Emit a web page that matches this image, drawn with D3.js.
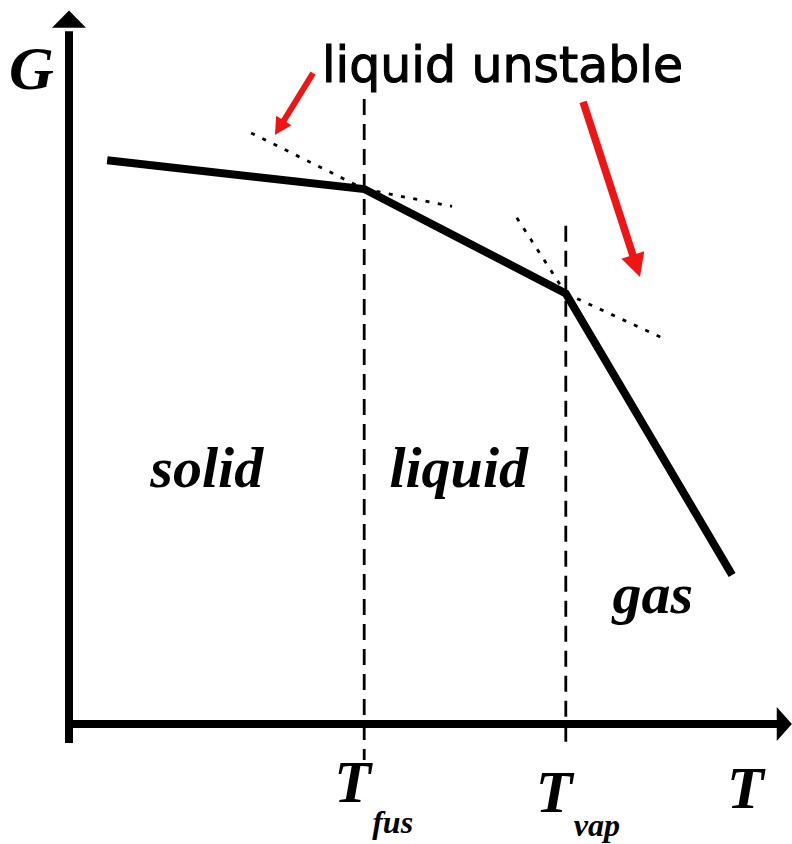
<!DOCTYPE html>
<html>
<head>
<meta charset="utf-8">
<script src="https://cdn.jsdelivr.net/npm/d3@7"></script>
<style>
  html, body { margin: 0; padding: 0; background: #fff; }
  svg { display: block; }
  .serif { font-family: "Liberation Serif", "Times New Roman", serif; font-weight: bold; font-style: italic; }
</style>
</head>
<body>
<svg id="chart" width="792" height="844"></svg>
<script>
// Gibbs free energy G versus temperature T for the three phases.
// Values are in arbitrary units (0–100 on both axes).

// Stable branch: solid -> liquid -> gas
const stableT = [5.3, 41, 69, 92.1];
const stableG = [78.3, 74.3, 59.8, 20.7];

// Transition temperatures
const transitionNames = ["fus", "vap"];
const transitionT = [41, 69];

// Metastable extensions of each phase line past the transitions
const extensionT = [[25.3, 41], [41, 53.2], [62.2, 69], [69, 83.1]];
const extensionG = [[82.1, 74.3], [74.3, 71.9], [70.3, 59.8], [59.8, 53.3]];

// Phase region labels
const phaseNames = ["solid", "liquid", "gas"];
const phaseT = [11.3, 44.5, 75.5];
const phaseG = [32.9, 32.9, 15.4];

// Arrows pointing at the metastable (unstable) liquid branches
const arrowFromT = [33.9, 71.4];
const arrowFromG = [90.4, 86.4];
const arrowToT = [28.6, 79.3];
const arrowToG = [81.8, 62.1];

const svg = d3.select("#chart");

const x = d3.scaleLinear().domain([0, 100]).range([69, 789]);
const y = d3.scaleLinear().domain([0, 100]).range([724, 4]);

const line = d3.line().x(d => x(d[0])).y(d => y(d[1]));

// Axes with arrowheads
const axisW = 8;
svg.append("line")
  .attr("x1", x(0)).attr("x2", x(0))
  .attr("y1", y(0) + 19).attr("y2", y(96.2))
  .attr("stroke", "#000").attr("stroke-width", axisW);
svg.append("path")
  .attr("d", `M${x(0) - 17},${y(96.7)} L${x(0) + 17},${y(96.7)} L${x(0)},${y(99.1)} Z`)
  .attr("fill", "#000");

svg.append("line")
  .attr("x1", x(0) - 4).attr("x2", x(98.6))
  .attr("y1", y(0)).attr("y2", y(0))
  .attr("stroke", "#000").attr("stroke-width", axisW);
svg.append("path")
  .attr("d", `M${x(98.3)},${y(0) - 17} L${x(98.3)},${y(0) + 17} L${x(100.4)},${y(0)} Z`)
  .attr("fill", "#000");

// Dashed verticals at the transition temperatures
const dashTop = [86.8, 69.2];
const dashBottom = [-5, -2.9];
svg.selectAll("line.transition")
  .data(transitionT)
  .join("line")
  .attr("class", "transition")
  .attr("x1", d => x(d)).attr("x2", d => x(d))
  .attr("y1", (d, i) => y(dashTop[i]))
  .attr("y2", (d, i) => y(dashBottom[i]))
  .attr("stroke", "#000")
  .attr("stroke-width", 2.8)
  .attr("stroke-dasharray", "16,9");

// Dotted metastable extensions
svg.selectAll("path.ext")
  .data(extensionT.map((t, i) => t.map((v, j) => [v, extensionG[i][j]])))
  .join("path")
  .attr("class", "ext")
  .attr("d", line)
  .attr("fill", "none")
  .attr("stroke", "#000")
  .attr("stroke-width", 2.8)
  .attr("stroke-dasharray", "4,8.5");

// Stable G(T) curve
svg.append("path")
  .attr("d", line(stableT.map((t, i) => [t, stableG[i]])))
  .attr("fill", "none")
  .attr("stroke", "#000")
  .attr("stroke-width", 8)
  .attr("stroke-linejoin", "miter");

// Red arrows
const red = "#ef1515";
const shaftW = [6, 7.6];
const headLen = [17, 23];
const headW = [18, 24];
arrowFromT.forEach((t, i) => {
  const x0 = x(t), y0 = y(arrowFromG[i]);
  const x1 = x(arrowToT[i]), y1 = y(arrowToG[i]);
  const dx = x1 - x0, dy = y1 - y0, len = Math.hypot(dx, dy);
  const ux = dx / len, uy = dy / len;
  const bx = x1 - ux * headLen[i], by = y1 - uy * headLen[i];
  svg.append("line")
    .attr("x1", x0).attr("y1", y0)
    .attr("x2", bx + ux * 2).attr("y2", by + uy * 2)
    .attr("stroke", red).attr("stroke-width", shaftW[i]);
  const px = -uy * headW[i] / 2, py = ux * headW[i] / 2;
  svg.append("path")
    .attr("d", `M${bx + px},${by + py} L${x1},${y1} L${bx - px},${by - py} Z`)
    .attr("fill", red);
});

// Annotation
svg.append("text")
  .attr("x", 322).attr("y", 82)
  .attr("font-family", "'DejaVu Sans', sans-serif")
  .attr("font-size", 50)
  .attr("textLength", 361)
  .attr("lengthAdjust", "spacingAndGlyphs")
  .attr("fill", "#000")
  .attr("stroke", "#000")
  .attr("stroke-width", 1.1)
  .text("liquid unstable");

// Axis titles
svg.append("text").attr("class", "serif")
  .attr("x", 9).attr("y", 89).attr("font-size", 62).text("G");
svg.append("text").attr("class", "serif")
  .attr("x", 727).attr("y", 808).attr("font-size", 60).text("T");

// Transition temperature labels
const subBase = [802, 812];
const subBaseline = [833, 836];
transitionT.forEach((t, i) => {
  svg.append("text").attr("class", "serif")
    .attr("x", x(t) - 30).attr("y", subBase[i]).attr("font-size", 60).text("T");
  svg.append("text").attr("class", "serif")
    .attr("x", x(t) + 8).attr("y", subBaseline[i]).attr("font-size", 32).text(transitionNames[i]);
});

// Phase labels
svg.selectAll("text.phase")
  .data(phaseNames)
  .join("text")
  .attr("class", "phase serif")
  .attr("x", (d, i) => x(phaseT[i]))
  .attr("y", (d, i) => y(phaseG[i]))
  .attr("font-size", 58)
  .text(d => d);
</script>
</body>
</html>
